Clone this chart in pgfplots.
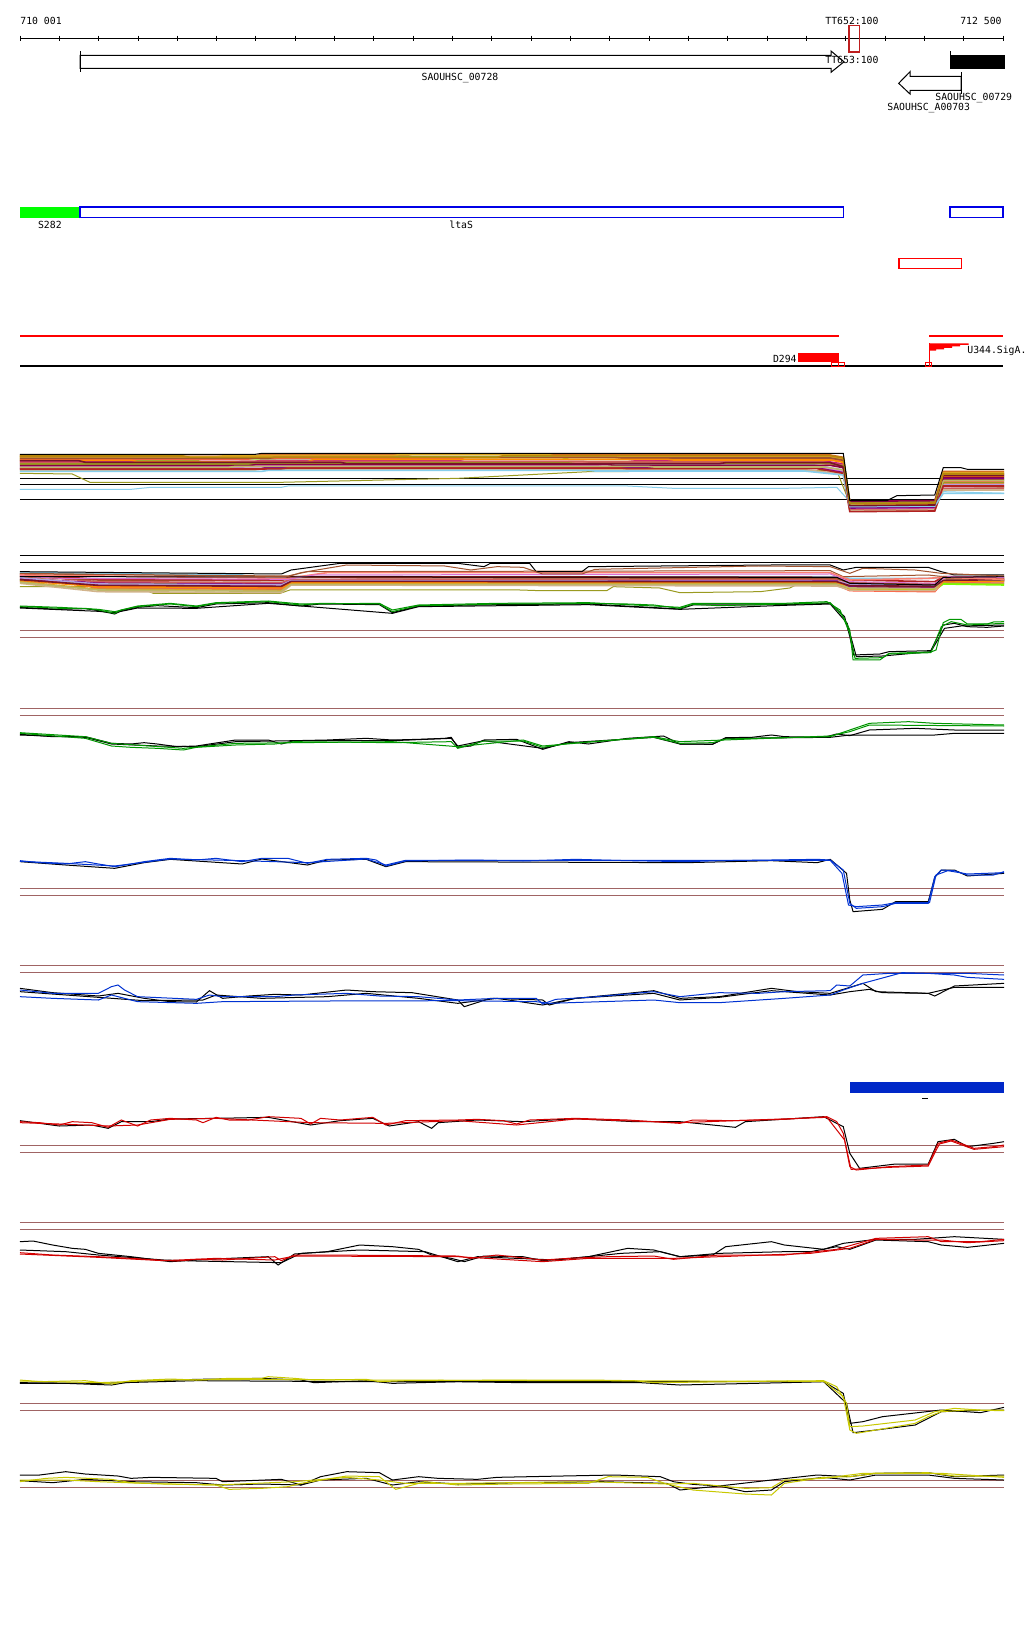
\documentclass[border=0pt]{standalone}
\usepackage{pgfplots}
\pgfplotsset{compat=1.18}
\usepackage{fontspec}
\newfontfamily\mono{DejaVu Sans Mono}
\definecolor{brn}{RGB}{160,100,100}
\definecolor{gr}{RGB}{0,150,0}
\definecolor{bl}{RGB}{0,50,210}
\definecolor{rd}{RGB}{210,0,0}
\definecolor{yl}{RGB}{200,200,0}
\definecolor{dred}{RGB}{190,30,30}
\definecolor{lime}{RGB}{0,255,0}
\definecolor{fblue}{RGB}{0,0,230}
\definecolor{bar}{RGB}{0,40,200}
\definecolor{c1}{RGB}{210,105,30}
\definecolor{c2}{RGB}{205,133,63}
\definecolor{c3}{RGB}{154,205,50}
\definecolor{c4}{RGB}{124,252,0}
\definecolor{c5}{RGB}{199,21,133}
\definecolor{c6}{RGB}{250,128,114}
\definecolor{c7}{RGB}{255,99,71}
\definecolor{c8}{RGB}{176,160,224}
\definecolor{c9}{RGB}{218,165,32}
\definecolor{c10}{RGB}{160,82,45}
\definecolor{c11}{RGB}{218,112,214}
\definecolor{c12}{RGB}{255,140,0}
\definecolor{c13}{RGB}{205,92,92}
\definecolor{c14}{RGB}{128,0,128}
\definecolor{c15}{RGB}{154,154,32}
\definecolor{c16}{RGB}{210,180,140}
\definecolor{c17}{RGB}{178,34,34}
\definecolor{c18}{RGB}{139,0,70}
\definecolor{c19}{RGB}{135,206,235}
\definecolor{c20}{RGB}{189,183,107}
\definecolor{c21}{RGB}{120,20,40}
\definecolor{c22}{RGB}{184,134,11}
\pgfplotsset{
  frame/.style={width=512pt,height=820pt,scale only axis,hide axis,y dir=reverse,
    at={(0,0)},anchor=south west,clip=true},
  trk/.style={frame,xmin=-0.6,xmax=1566.6},
  every axis plot/.append style={line width=0.5pt},
  mc/.style={line width=0.8pt},
}
\tikzset{lab/.style={inner sep=0pt,overlay,font=\mono\fontsize{4.9}{5}\selectfont}}
\begin{document}
\begin{tikzpicture}
% ---------------- annotation axis, pixel coordinates ----------------
\begin{axis}[frame,xmin=0,xmax=1024,ymin=0,ymax=1640,unbounded coords=jump]
\addplot[draw=none,fill=white] coordinates {(0,0)(1024,0)(1024,1640)(0,1640)} -- cycle;
% ruler
\addplot[black] coordinates {(20,38)(1003,38)};
\addplot[black] coordinates {(20,35.5)(20,40.5)(20,nan)(59.3,35.5)(59.3,40.5)(59.3,nan)(98.6,35.5)(98.6,40.5)(98.6,nan)(138,35.5)(138,40.5)(138,nan)(177.3,35.5)(177.3,40.5)(177.3,nan)(216.6,35.5)(216.6,40.5)(216.6,nan)(255.9,35.5)(255.9,40.5)(255.9,nan)(295.2,35.5)(295.2,40.5)(295.2,nan)(334.6,35.5)(334.6,40.5)(334.6,nan)(373.9,35.5)(373.9,40.5)(373.9,nan)(413.2,35.5)(413.2,40.5)(413.2,nan)(452.5,35.5)(452.5,40.5)(452.5,nan)(491.8,35.5)(491.8,40.5)(491.8,nan)(531.2,35.5)(531.2,40.5)(531.2,nan)(570.5,35.5)(570.5,40.5)(570.5,nan)(609.8,35.5)(609.8,40.5)(609.8,nan)(649.1,35.5)(649.1,40.5)(649.1,nan)(688.4,35.5)(688.4,40.5)(688.4,nan)(727.8,35.5)(727.8,40.5)(727.8,nan)(767.1,35.5)(767.1,40.5)(767.1,nan)(806.4,35.5)(806.4,40.5)(806.4,nan)(845.7,35.5)(845.7,40.5)(845.7,nan)(885,35.5)(885,40.5)(885,nan)(924.4,35.5)(924.4,40.5)(924.4,nan)(963.7,35.5)(963.7,40.5)(963.7,nan)(1003,35.5)(1003,40.5)};
\addplot[dred,line width=0.6pt] coordinates {(849,25.5)(859.5,25.5)(859.5,52)(849,52)} -- cycle;
% genes
\addplot[black,fill=white] coordinates {(80,55.3)(831,55.3)(831,51)(844,61.8)(831,72.3)(831,68.3)(80,68.3)} -- cycle;
\addplot[black] coordinates {(80,51)(80,72)};
\addplot[black,fill=black] coordinates {(950,55.3)(1004,55.3)(1004,68.7)(950,68.7)} -- cycle;
\addplot[black] coordinates {(950,51)(950,69)};
\addplot[black,fill=white] coordinates {(961,76.3)(910,76.3)(910,71.7)(898.7,83.3)(910,94)(910,90.3)(961,90.3)} -- cycle;
\addplot[black] coordinates {(961,72)(961,94)};
% regulatory features
\addplot[draw=none,fill=lime] coordinates {(20,207)(80,207)(80,217.7)(20,217.7)} -- cycle;
\addplot[fblue,line width=0.7pt] coordinates {(80,207)(843.3,207)(843.3,217.7)(80,217.7)} -- cycle;
\addplot[fblue,line width=0.7pt] coordinates {(950,207)(1003,207)(1003,217.7)(950,217.7)} -- cycle;
\addplot[red,line width=0.6pt] coordinates {(899,258.3)(961.3,258.3)(961.3,268.7)(899,268.7)} -- cycle;
\addplot[red,line width=0.6pt] coordinates {(20,336)(838.7,336)};
\addplot[red,line width=0.6pt] coordinates {(929.3,336)(1003.3,336)};
\addplot[black,line width=0.6pt] coordinates {(20,366)(1003,366)};
\addplot[draw=none,fill=red] coordinates {(798,353.3)(838.7,353.3)(838.7,362)(798,362)} -- cycle;
\addplot[red] coordinates {(831,362.3)(838,362.3)(838,366)(831,366)} -- cycle;
\addplot[red] coordinates {(838,362.3)(844.7,362.3)(844.7,366)(838,366)} -- cycle;
\addplot[red] coordinates {(925.3,362.3)(931.3,362.3)(931.3,366)(925.3,366)} -- cycle;
\addplot[red] coordinates {(929.3,343.3)(929.3,366)};
\addplot[draw=none,fill=red] coordinates {(929.3,343.3)(968.7,343.3)(968.7,344.8)(960,344.8)(960,346.3)(952,346.3)(952,347.8)(944,347.8)(944,349.3)(936,349.3)(936,350.7)(929.3,350.7)} -- cycle;
% labels
\node[lab,anchor=base west] at (axis cs:20,24.5) {710 001};
\node[lab,anchor=base east] at (axis cs:1002,24.5) {712 500};
\node[lab,anchor=base west] at (axis cs:825,24.5) {TT652:100};
\node[lab,anchor=base west] at (axis cs:825,63) {TT653:100};
\node[lab,anchor=base] at (axis cs:460,80) {SAOUHSC\_00728};
\node[lab,anchor=base west] at (axis cs:935,100) {SAOUHSC\_00729};
\node[lab,anchor=base west] at (axis cs:887,110) {SAOUHSC\_A00703};
\node[lab,anchor=base west] at (axis cs:37.7,228) {S282};
\node[lab,anchor=base west] at (axis cs:449,228) {ltaS};
\node[lab,anchor=base east] at (axis cs:797,362.5) {D294};
\node[lab,anchor=base west] at (axis cs:967,353) {U344.SigA.};
\end{axis}
% ---------------- tracks 1-3 (offset 430) ----------------
\begin{axis}[trk,ymin=-1290,ymax=3630]
\addplot[black] coordinates {(30,145)(1536,145)};
\addplot[black] coordinates {(30,163)(1536,163)};
\addplot[black] coordinates {(30,208)(1536,208)};
\addplot[c19] coordinates {(30,178)(200,178)(230,172)(430,172)(440,168)(960,168)(1030,175)(1200,175)(1280,172)(1300,215)(1430,230)(1443,185)(1536,190)};
\addplot[c15] coordinates {(30,130)(110,132)(137,157)(428,157)(700,145)(900,125)(1280,122)(1300,220)(1430,228)(1443,170)(1536,172)};
\addplot[c1,mc] coordinates {(30,76)(150,76)(160,79)(390,79)(400,73)(900,73)(910,75)(1270,75)(1290,82)(1300,218)(1430,216)(1443,124)(1536,124)};
\addplot[c2,mc] coordinates {(30,79)(350,79)(360,76)(620,76)(630,80)(880,80)(890,78)(1270,78)(1290,85)(1300,222)(1430,220)(1443,130)(1536,130)};
\addplot[c3,mc] coordinates {(30,83)(220,83)(230,86)(420,86)(430,80)(920,80)(930,82)(1270,82)(1290,89)(1300,215)(1430,213)(1443,140)(1536,140)};
\addplot[c4,mc] coordinates {(30,89)(150,89)(160,92)(300,92)(310,86)(560,86)(570,83)(860,83)(870,88)(1270,88)(1290,95)(1300,225)(1430,223)(1443,147)(1536,147)};
\addplot[c5,mc] coordinates {(30,94)(390,94)(400,91)(700,91)(710,95)(960,95)(970,93)(1260,93)(1290,102)(1300,228)(1430,226)(1443,134)(1536,134)};
\addplot[c6,mc] coordinates {(30,99)(250,99)(260,95)(450,95)(460,96)(900,96)(910,98)(1250,98)(1290,110)(1300,232)(1430,230)(1443,160)(1536,160)};
\addplot[c7,mc] coordinates {(30,87)(380,87)(390,84)(700,84)(710,88)(1000,88)(1010,86)(1270,86)(1290,93)(1300,236)(1430,234)(1443,155)(1536,155)};
\addplot[c8,mc] coordinates {(30,104)(390,104)(400,101)(900,101)(910,103)(1240,103)(1290,120)(1300,226)(1430,224)(1443,165)(1536,165)};
\addplot[c9,mc] coordinates {(30,81)(330,81)(340,78)(600,78)(610,74)(840,74)(850,80)(1270,80)(1290,87)(1300,220)(1430,218)(1443,128)(1536,128)};
\addplot[c10,mc] coordinates {(30,85)(410,85)(420,82)(940,82)(950,84)(1270,84)(1290,91)(1300,230)(1430,228)(1443,150)(1536,150)};
\addplot[c11,mc] coordinates {(30,110)(370,110)(380,107)(910,107)(920,109)(1240,109)(1290,125)(1300,238)(1430,236)(1443,170)(1536,170)};
\addplot[c12,mc] coordinates {(30,91)(200,91)(210,95)(470,95)(480,88)(1020,88)(1030,90)(1270,90)(1290,97)(1300,224)(1430,222)(1443,138)(1536,138)};
\addplot[c13,mc] coordinates {(30,97)(360,97)(370,94)(890,94)(900,96)(1260,96)(1290,106)(1300,240)(1430,238)(1443,175)(1536,175)};
\addplot[c14,mc] coordinates {(30,115)(400,115)(410,112)(980,112)(990,114)(1250,114)(1290,128)(1300,234)(1430,232)(1443,145)(1536,145)};
\addplot[c15,mc] coordinates {(30,102)(440,102)(450,99)(870,99)(880,101)(1270,101)(1290,108)(1300,219)(1430,217)(1443,158)(1536,158)};
\addplot[c16,mc] coordinates {(30,120)(390,120)(400,117)(900,117)(910,119)(1230,119)(1290,132)(1300,242)(1430,240)(1443,180)(1536,180)};
\addplot[c17,mc] coordinates {(30,117)(430,117)(440,114)(950,114)(960,116)(1250,116)(1290,130)(1300,245)(1430,243)(1443,168)(1536,168)};
\addplot[c18,mc] coordinates {(30,107)(380,107)(390,104)(930,104)(940,106)(1270,106)(1290,113)(1300,214)(1430,212)(1443,142)(1536,142)};
\addplot[c19,mc] coordinates {(30,124)(400,124)(410,121)(900,121)(910,123)(1230,123)(1290,135)(1300,230)(1430,228)(1443,190)(1536,190)};
\addplot[c20,mc] coordinates {(30,112)(350,112)(360,109)(990,109)(1000,111)(1260,111)(1290,120)(1300,222)(1430,220)(1443,152)(1536,152)};
\addplot[c21,mc] coordinates {(30,92)(120,92)(130,97)(520,97)(530,101)(1100,101)(1110,98)(1270,98)(1290,110)(1300,227)(1430,225)(1443,136)(1536,136)};
\addplot[c22,mc] coordinates {(30,78)(280,78)(290,82)(760,82)(770,77)(1270,77)(1290,84)(1300,221)(1430,219)(1443,132)(1536,132)};
\addplot[black] coordinates {(30,73)(390,73)(400,70)(1290,70)(1300,212)(1357,212)(1372,197)(1430,195)(1443,113)(1470,113)(1480,118)(1536,118)};
% track 2
\addplot[black] coordinates {(30,376)(1536,376)};
\addplot[black] coordinates {(30,397)(1536,397)};
\addplot[c19,mc] coordinates {(30,428)(370,435)(380,440)(1280,440)(1300,445)(1430,445)(1440,440)(1536,440)};
\addplot[c15] coordinates {(30,470)(137,470)(152,482)(224,482)(234,490)(428,490)(443,480)(795,480)(826,482)(928,482)(938,470)(1009,474)(1040,488)(1163,485)(1208,474)(1224,459)(1280,462)(1300,470)(1430,478)(1443,460)(1536,462)};
\addplot[c1,mc] coordinates {(30,440)(90,452)(150,470)(430,470)(445,450)(700,450)(710,455)(1280,455)(1300,470)(1430,480)(1443,452)(1536,452)};
\addplot[c2,mc] coordinates {(30,445)(120,462)(150,475)(430,478)(445,455)(1280,455)(1300,475)(1430,478)(1443,456)(1536,455)};
\addplot[c3,mc] coordinates {(30,448)(150,468)(430,472)(445,452)(900,452)(910,458)(1280,460)(1300,468)(1430,472)(1443,458)(1536,460)};
\addplot[c4,mc] coordinates {(30,450)(150,460)(430,462)(445,455)(1280,462)(1300,478)(1430,480)(1443,462)(1536,465)};
\addplot[c5,mc] coordinates {(30,453)(150,465)(430,468)(445,457)(1280,458)(1300,472)(1430,470)(1443,448)(1536,450)};
\addplot[c7,mc] coordinates {(30,442)(150,472)(430,475)(445,460)(1280,465)(1300,482)(1430,485)(1443,455)(1536,458)};
\addplot[c9,mc] coordinates {(30,455)(150,478)(430,482)(445,462)(1280,458)(1300,465)(1430,470)(1443,446)(1536,448)};
\addplot[c14,mc] coordinates {(30,447)(150,458)(430,460)(445,450)(1280,452)(1300,470)(1430,474)(1443,450)(1536,452)};
\addplot[c16,mc] coordinates {(30,460)(150,485)(430,488)(445,465)(1280,468)(1300,480)(1430,482)(1443,452)(1536,455)};
\addplot[c13,mc] coordinates {(30,436)(150,455)(430,458)(445,448)(1280,447)(1300,460)(1430,462)(1443,445)(1536,447)};
\addplot[c8,mc] coordinates {(30,443)(150,462)(430,465)(445,452)(1280,454)(1300,462)(1430,466)(1443,448)(1536,450)};
\addplot[c10,mc] coordinates {(30,438)(150,450)(430,452)(445,442)(1280,445)(1300,458)(1430,462)(1443,444)(1536,446)};
\addplot[c17,mc] coordinates {(30,432)(150,448)(430,450)(445,440)(1280,442)(1300,450)(1430,455)(1443,440)(1536,442)};
\addplot[c12,mc] coordinates {(30,451)(150,470)(430,473)(445,458)(1280,456)(1300,476)(1430,476)(1443,454)(1536,453)};
\addplot[c20,mc] coordinates {(30,457)(150,480)(430,484)(445,463)(1280,463)(1300,474)(1430,476)(1443,449)(1536,451)};
\addplot[c21,mc] coordinates {(30,449)(150,466)(430,469)(445,454)(1280,455)(1300,467)(1430,469)(1443,451)(1536,449)};
\addplot[c10] coordinates {(30,432)(440,438)(470,425)(1270,422)(1290,440)(1420,435)(1443,440)(1536,445)};
\addplot[c6,mc] coordinates {(30,435)(440,445)(500,428)(1270,428)(1300,450)(1420,445)(1443,442)(1536,448)};
\addplot[c11] coordinates {(30,438)(90,445)(440,448)(480,435)(1270,432)(1300,455)(1430,460)(1450,440)(1536,442)};
\addplot[black] coordinates {(30,440)(1280,442)(1300,460)(1430,465)(1443,442)(1536,440)};
\addplot[black] coordinates {(30,425)(430,432)(445,420)(520,400)(700,400)(740,410)(750,400)(810,400)(820,425)(890,425)(900,410)(1180,405)(1270,405)(1290,420)(1310,412)(1420,412)(1440,425)(1460,435)(1536,435)};
\addplot[c10] coordinates {(30,430)(440,440)(460,428)(530,405)(680,408)(720,420)(760,410)(800,412)(830,432)(890,432)(910,418)(1160,408)(1270,410)(1300,430)(1320,415)(1400,420)(1440,430)(1536,438)};
% track 3
\addplot[brn] coordinates {(30,601)(1536,601)};
\addplot[brn] coordinates {(30,622)(1536,622)};
\addplot[black] coordinates {(30,534)(150,544)(175,548)(210,534)(300,535)(410,520)(600,550)(640,530)(900,524)(1040,538)(1200,526)(1270,522)(1296,580)(1310,680)(1350,678)(1424,665)(1445,595)(1470,588)(1536,585)};
\addplot[black] coordinates {(30,532)(90,538)(130,536)(150,542)(175,552)(185,542)(210,532)(240,527)(300,533)(330,522)(410,518)(460,528)(490,522)(580,524)(600,548)(640,528)(760,524)(900,522)(1040,537)(1060,525)(1200,524)(1270,520)(1292,560)(1300,620)(1306,675)(1346,672)(1360,665)(1424,662)(1443,585)(1460,580)(1480,590)(1510,592)(1536,588)};
\addplot[gr] coordinates {(30,528)(90,532)(150,538)(175,545)(210,528)(260,520)(300,528)(330,518)(410,513)(460,522)(580,520)(600,540)(640,525)(760,520)(900,518)(1040,532)(1060,520)(1200,520)(1265,515)(1285,540)(1300,610)(1308,685)(1350,683)(1360,672)(1424,668)(1440,590)(1455,575)(1480,585)(1536,580)};
\addplot[gr] coordinates {(30,530)(60,532)(90,535)(130,535)(150,540)(175,550)(185,540)(210,530)(240,525)(260,522)(300,530)(330,520)(360,518)(410,515)(460,525)(490,520)(580,522)(600,545)(610,540)(640,527)(700,525)(760,522)(820,522)(900,520)(960,522)(1000,525)(1040,535)(1060,523)(1100,527)(1200,522)(1240,520)(1270,518)(1290,560)(1300,600)(1305,690)(1346,690)(1360,670)(1424,666)(1432,660)(1443,578)(1453,568)(1470,568)(1480,582)(1510,582)(1520,576)(1536,575)};
\end{axis}
% ---------------- tracks 4-5 (offset 640) ----------------
\begin{axis}[trk,ymin=-1920,ymax=3000]
\addplot[brn] coordinates {(30,205)(1536,205)};
\addplot[brn] coordinates {(30,227)(1536,227)};
\addplot[black] coordinates {(30,285)(130,292)(170,312)(240,318)(300,320)(360,305)(450,302)(600,302)(690,295)(700,318)(740,302)(830,325)(870,308)(1000,292)(1040,312)(1090,312)(1110,295)(1270,292)(1300,285)(1430,285)(1460,280)(1536,280)};
\addplot[black] coordinates {(30,283)(80,290)(130,290)(150,300)(170,310)(200,312)(220,308)(240,312)(270,320)(300,318)(320,312)(360,300)(410,300)(430,312)(450,302)(500,300)(560,295)(600,300)(640,298)(680,295)(690,292)(700,322)(720,318)(740,300)(790,298)(830,328)(870,305)(900,312)(960,295)(1000,290)(1015,288)(1040,312)(1090,313)(1110,293)(1150,292)(1180,285)(1200,290)(1260,292)(1280,282)(1300,287)(1330,270)(1400,265)(1460,270)(1536,270)};
\addplot[gr] coordinates {(30,278)(130,290)(170,310)(280,325)(360,310)(600,305)(700,320)(800,300)(830,318)(1000,290)(1040,305)(1270,288)(1300,275)(1330,255)(1536,258)};
\addplot[gr] coordinates {(30,280)(130,295)(170,318)(200,322)(240,325)(280,330)(300,322)(360,315)(420,312)(450,305)(600,308)(690,305)(700,325)(740,303)(800,303)(830,322)(870,310)(1000,292)(1040,310)(1090,308)(1110,297)(1270,290)(1300,270)(1330,250)(1390,245)(1430,250)(1536,255)};
% track 5
\addplot[brn] coordinates {(30,745)(1536,745)};
\addplot[brn] coordinates {(30,766)(1536,766)};
\addplot[black] coordinates {(30,665)(100,675)(175,685)(220,668)(260,658)(370,672)(400,657)(470,675)(500,660)(560,658)(590,680)(620,665)(1050,668)(1180,662)(1250,668)(1270,658)(1295,700)(1300,780)(1305,815)(1350,808)(1370,785)(1420,785)(1430,712)(1440,690)(1460,690)(1480,708)(1536,700)};
\addplot[bl] coordinates {(30,664)(100,670)(175,678)(260,657)(370,662)(470,668)(560,657)(590,675)(620,661)(1270,661)(1288,700)(1298,795)(1310,800)(1350,795)(1370,788)(1422,788)(1432,705)(1450,692)(1480,702)(1536,698)};
\addplot[bl] coordinates {(30,662)(60,668)(100,672)(130,665)(150,672)(175,680)(200,672)(220,665)(260,655)(300,660)(330,655)(370,665)(400,655)(440,655)(470,670)(500,658)(560,655)(575,660)(590,678)(620,663)(720,660)(800,663)(880,658)(960,662)(1050,665)(1100,662)(1180,660)(1250,658)(1270,660)(1290,690)(1300,790)(1310,805)(1350,800)(1370,790)(1420,790)(1430,710)(1440,690)(1460,692)(1480,705)(1520,705)(1536,695)};
\end{axis}
% ---------------- tracks 6-7 (offset 940) ----------------
\begin{axis}[trk,ymin=-2820,ymax=2100]
\addplot[brn] coordinates {(30,75)(1536,75)};
\addplot[brn] coordinates {(30,97)(1536,97)};
\addplot[black] coordinates {(30,145)(80,158)(150,168)(180,160)(220,175)(260,185)(300,186)(320,152)(340,175)(380,168)(420,163)(460,165)(530,150)(570,155)(630,158)(700,180)(710,200)(750,175)(830,180)(840,195)(880,175)(960,160)(1000,152)(1040,175)(1100,170)(1180,145)(1220,155)(1270,160)(1320,130)(1340,155)(1420,160)(1430,168)(1460,138)(1536,130)};
\addplot[black] coordinates {(30,155)(150,172)(220,182)(310,180)(330,165)(400,175)(500,170)(560,160)(640,175)(700,190)(760,175)(830,195)(880,175)(1000,160)(1040,180)(1100,172)(1180,152)(1270,165)(1300,155)(1330,148)(1350,158)(1420,160)(1460,142)(1536,142)};
\addplot[bl] coordinates {(30,170)(80,175)(150,180)(170,165)(210,185)(300,190)(340,185)(500,183)(700,182)(820,185)(840,190)(1000,180)(1040,188)(1100,188)(1200,175)(1270,165)(1290,150)(1320,130)(1380,98)(1420,100)(1480,100)(1536,105)};
\addplot[bl] coordinates {(30,150)(80,160)(150,160)(170,140)(180,135)(190,150)(210,170)(300,178)(320,165)(340,170)(420,170)(450,165)(530,160)(580,168)(640,170)(700,180)(760,175)(820,175)(830,192)(850,178)(900,172)(1000,155)(1040,170)(1100,158)(1160,160)(1200,155)(1270,152)(1280,135)(1300,138)(1320,105)(1360,100)(1420,100)(1460,105)(1480,112)(1536,118)};
\addplot[draw=none,fill=bar] coordinates {(1300,426)(1536,426)(1536,458)(1300,458)} -- cycle;
\addplot[black,line width=0.6pt] coordinates {(1411,475)(1419,475)};
% track 7
\addplot[brn] coordinates {(30,617)(1536,617)};
\addplot[brn] coordinates {(30,637)(1536,637)};
\addplot[black] coordinates {(30,542)(90,558)(140,555)(165,565)(185,545)(230,545)(260,537)(330,535)(410,532)(475,555)(520,542)(570,535)(595,558)(640,545)(660,565)(670,548)(730,540)(800,545)(880,536)(970,545)(1040,545)(1125,562)(1140,545)(1260,530)(1290,560)(1300,640)(1315,685)(1370,672)(1420,672)(1435,605)(1460,598)(1480,620)(1520,610)(1536,605)};
\addplot[rd] coordinates {(30,548)(90,552)(165,558)(210,555)(260,538)(330,535)(475,548)(590,550)(700,542)(790,555)(880,537)(1040,548)(1265,532)(1292,600)(1302,688)(1360,682)(1420,678)(1437,612)(1455,603)(1490,628)(1536,620)};
\addplot[rd] coordinates {(30,545)(60,548)(90,555)(110,545)(140,548)(165,562)(185,540)(210,558)(230,540)(260,535)(300,540)(310,548)(330,532)(350,540)(380,540)(410,530)(460,535)(475,552)(490,535)(520,540)(570,532)(590,555)(620,542)(700,540)(730,538)(770,542)(790,552)(810,540)(880,535)(960,540)(1040,550)(1060,540)(1120,542)(1200,538)(1265,530)(1280,545)(1290,580)(1300,680)(1310,690)(1360,680)(1420,675)(1435,610)(1455,600)(1470,610)(1490,625)(1520,620)(1536,615)};
\end{axis}
% ---------------- tracks 8-10 (offset 1190) ----------------
\begin{axis}[trk,ymin=-3570,ymax=1350]
\addplot[brn] coordinates {(30,97)(1536,97)};
\addplot[brn] coordinates {(30,118)(1536,118)};
\addplot[black] coordinates {(30,155)(50,153)(80,165)(110,175)(130,178)(150,190)(200,200)(260,215)(300,210)(350,205)(410,200)(425,225)(450,192)(500,185)(550,165)(600,170)(640,178)(660,195)(690,205)(710,215)(740,198)(800,200)(830,212)(900,200)(960,175)(1000,180)(1040,200)(1090,195)(1110,170)(1180,155)(1200,165)(1260,178)(1290,160)(1340,148)(1400,148)(1460,140)(1536,148)};
\addplot[black] coordinates {(30,180)(100,185)(150,195)(250,210)(300,213)(430,218)(460,190)(550,180)(650,185)(700,215)(730,200)(850,210)(950,190)(1010,185)(1040,200)(1100,190)(1200,185)(1240,185)(1280,170)(1300,178)(1340,150)(1420,155)(1440,165)(1480,172)(1536,160)};
\addplot[rd] coordinates {(30,192)(150,202)(250,212)(330,205)(420,210)(450,198)(700,200)(830,215)(900,205)(1030,205)(1240,190)(1300,175)(1340,148)(1400,150)(1440,150)(1480,158)(1536,152)};
\addplot[rd] coordinates {(30,188)(80,195)(150,200)(200,205)(240,210)(270,213)(300,208)(340,210)(380,205)(420,200)(430,212)(450,195)(500,195)(700,198)(720,205)(760,195)(830,210)(870,205)(930,200)(1000,198)(1030,208)(1100,195)(1200,195)(1280,178)(1340,145)(1420,140)(1440,155)(1500,155)(1536,148)};
% track 9
\addplot[brn] coordinates {(30,640)(1536,640)};
\addplot[brn] coordinates {(30,661)(1536,661)};
\addplot[black] coordinates {(30,580)(100,580)(170,585)(200,575)(300,568)(400,565)(460,570)(480,578)(560,572)(600,580)(700,575)(800,578)(980,578)(1040,585)(1200,578)(1260,575)(1290,610)(1300,700)(1320,695)(1350,680)(1440,660)(1500,668)(1536,652)};
\addplot[black] coordinates {(30,578)(150,580)(300,572)(560,575)(900,575)(1260,575)(1295,640)(1305,728)(1340,720)(1400,705)(1440,665)(1480,662)(1536,660)};
\addplot[yl] coordinates {(30,573)(150,578)(260,570)(400,568)(560,570)(900,572)(1260,574)(1290,620)(1300,720)(1310,730)(1340,720)(1400,700)(1420,680)(1440,665)(1480,660)(1536,662)};
\addplot[yl] coordinates {(30,570)(60,575)(130,572)(170,582)(200,572)(260,567)(300,570)(350,565)(400,565)(410,560)(450,565)(480,570)(560,568)(580,575)(620,572)(800,570)(900,570)(970,572)(1000,578)(1200,573)(1260,572)(1280,590)(1295,640)(1300,710)(1320,708)(1400,690)(1430,665)(1460,655)(1500,660)(1536,660)};
% track 10
\addplot[brn] coordinates {(30,871)(1536,871)};
\addplot[brn] coordinates {(30,892)(1536,892)};
\addplot[black] coordinates {(30,855)(60,855)(100,845)(130,852)(180,858)(200,865)(230,862)(330,865)(340,875)(430,868)(460,885)(490,860)(530,845)(580,848)(600,870)(640,860)(670,865)(730,868)(760,862)(860,858)(940,855)(1010,860)(1030,875)(1060,883)(1100,888)(1180,870)(1250,855)(1300,860)(1340,850)(1420,848)(1460,860)(1536,855)};
\addplot[black] coordinates {(30,872)(80,878)(130,868)(200,875)(300,878)(340,885)(400,882)(460,885)(490,870)(560,865)(600,885)(640,875)(700,882)(800,878)(920,875)(1020,880)(1040,900)(1100,888)(1140,905)(1180,900)(1200,875)(1260,862)(1300,870)(1340,855)(1420,855)(1460,865)(1536,870)};
\addplot[yl] coordinates {(30,870)(100,870)(150,875)(220,880)(330,885)(450,875)(530,862)(580,870)(620,880)(700,880)(900,875)(1020,882)(1060,900)(1140,912)(1180,915)(1200,880)(1260,862)(1300,860)(1340,850)(1440,850)(1536,862)};
\addplot[yl] coordinates {(30,875)(70,865)(100,862)(170,868)(200,878)(250,882)(330,885)(350,898)(400,895)(440,890)(460,880)(530,858)(580,860)(605,898)(650,875)(700,885)(780,882)(900,880)(930,860)(990,862)(1020,882)(1060,880)(1140,895)(1180,893)(1200,870)(1260,865)(1320,850)(1420,848)(1460,858)(1536,858)};
\end{axis}
\end{tikzpicture}
\end{document}
